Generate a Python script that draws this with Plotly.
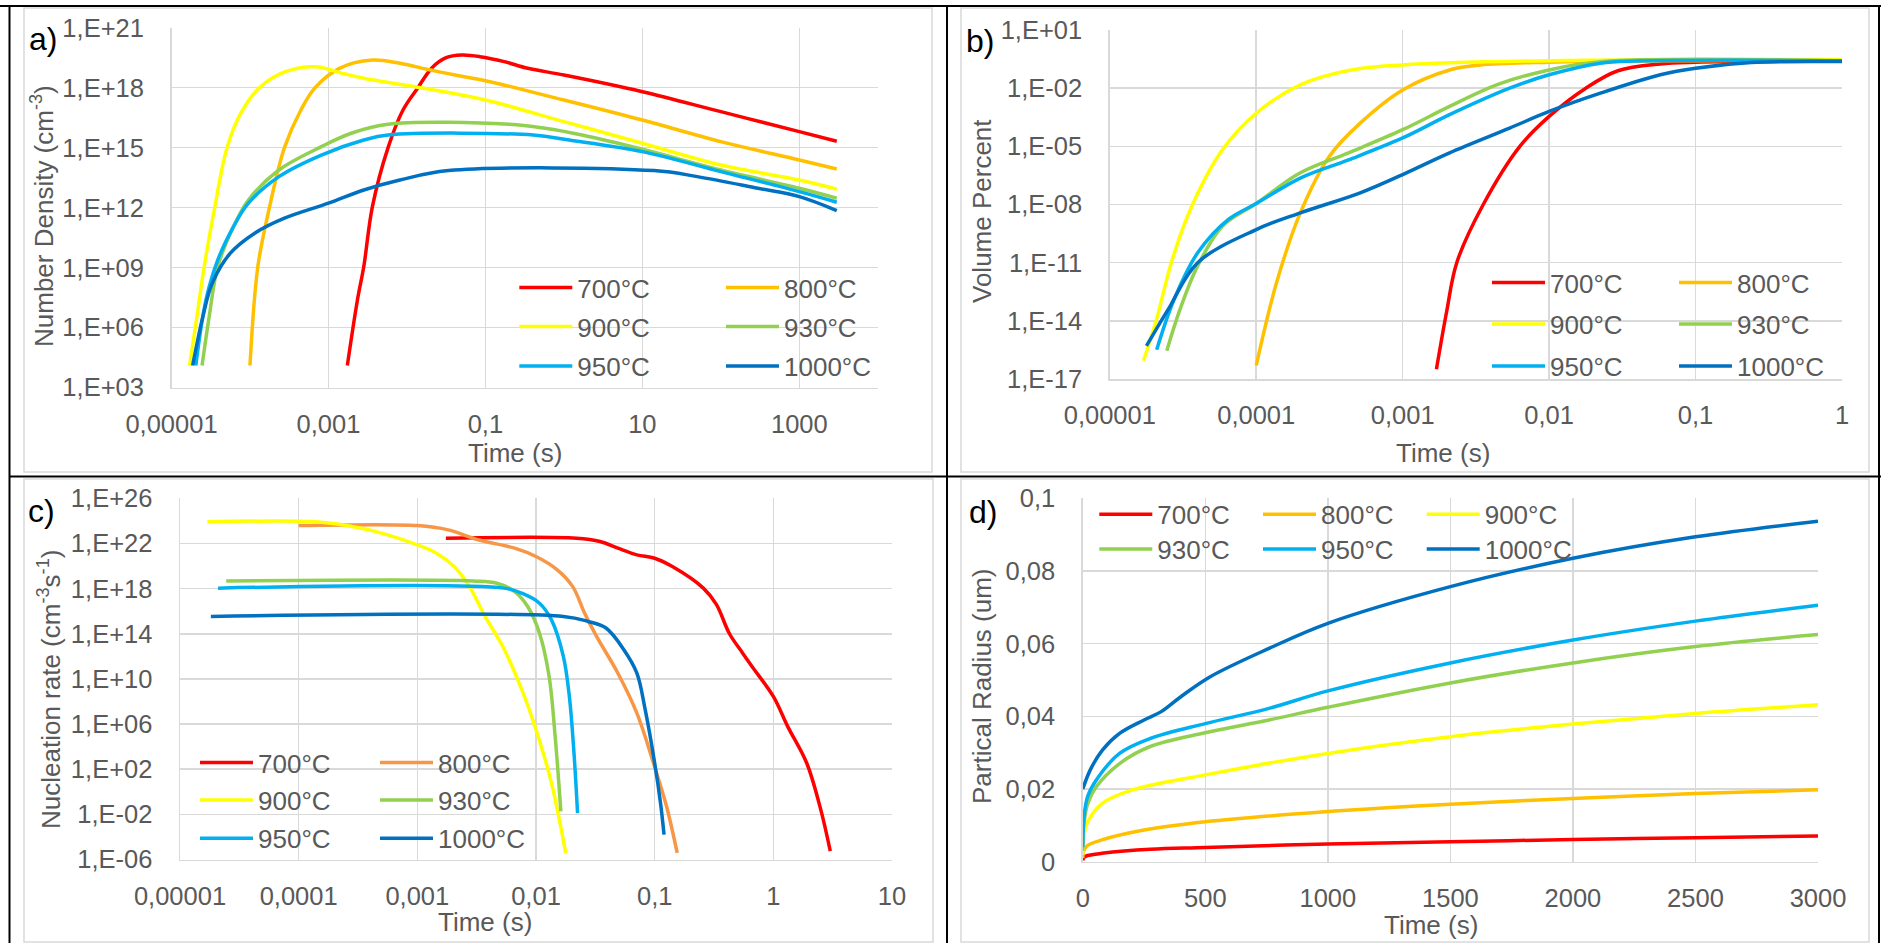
import plotly.graph_objects as go

W, H = 1881, 943
FONT = "Liberation Sans"
GREY = "#595959"
GRID = "#D9D9D9"

TEMPS = ["700°C", "800°C", "900°C", "930°C", "950°C", "1000°C"]
COLORS = ["#FF0000", "#FFC000", "#FFFF00", "#92D050", "#00B0F0", "#0070C0"]
COLORS_C = ["#FF0000", "#F79646", "#FFFF00", "#92D050", "#00B0F0", "#0070C0"]

# ---------------- a) Number density vs time ----------------
A_T_700 = [1.74e-3, 2.34e-3, 2.82e-3, 3.63e-3, 5.75e-3, 8.91e-3, 1.38e-2, 2.09e-2, 3.16e-2, 5.01e-2, 8.51e-2, 0.174, 0.347, 1, 10, 100, 1000, 3000]
A_N_700 = [1.26e4, 2.4e7, 1.12e9, 1.12e12, 1e15, 7.6e16, 1e18, 1e19, 3.16e19, 4.27e19, 3.55e19, 2e19, 9.3e18, 4.3e18, 6.3e17, 6.3e16, 6.3e15, 2.1e15]
A_T_800 = [1e-4, 1.26e-4, 1.78e-4, 2.75e-4, 4.47e-4, 6.76e-4, 1.38e-3, 3.63e-3, 8.13e-3, 2.0e-2, 4.79e-2, 0.1, 1, 10, 100, 1000, 3000]
A_N_800 = [1.26e4, 1.12e9, 1.12e12, 1e15, 7.9e16, 1e18, 9.3e18, 2.4e19, 1.66e19, 7.6e18, 3.8e18, 2.24e18, 2.4e17, 2.4e16, 2e15, 2.4e14, 8.5e13]
A_T_900 = [1.7e-5, 2.1e-5, 2.6e-5, 3.55e-5, 5.1e-5, 7.6e-5, 1.32e-4, 2.82e-4, 6.76e-4, 1.58e-3, 2.82e-3, 1.66e-2, 0.1, 1, 10, 100, 1000, 3000]
A_N_900 = [1.26e4, 3.2e6, 1e9, 1e12, 1e15, 5e16, 1e18, 6.3e18, 1.12e19, 5e18, 2.95e18, 9.3e17, 2.4e17, 2e16, 1.66e15, 1.35e14, 2.4e13, 8.3e12]
A_T_930 = [2.45e-5, 3.02e-5, 3.89e-5, 6.17e-5, 9.55e-5, 2.34e-4, 8.13e-4, 1.95e-3, 5.75e-3, 0.2, 0.575, 1.7, 10, 100, 1000, 3000]
A_N_930 = [1.26e4, 3.5e6, 1.12e9, 1.12e11, 2.4e12, 7.6e13, 1.12e15, 5.25e15, 1.48e16, 1.48e16, 9.3e15, 4.3e15, 8.3e14, 7.6e13, 9.3e12, 2.95e12]
A_T_950 = [2.04e-5, 2.75e-5, 3.89e-5, 6.17e-5, 9.55e-5, 2.34e-4, 8.13e-4, 2.82e-3, 5.75e-3, 0.407, 1.17, 10, 100, 1000, 3000]
A_N_950 = [1.26e4, 2.4e7, 2.4e9, 1.12e11, 1.66e12, 3.55e13, 4.27e14, 2.4e15, 4.27e15, 4.27e15, 2.4e15, 6.3e14, 6.3e13, 6.3e12, 1.86e12]
A_T_1000 = [1.86e-5, 2.51e-5, 3.31e-5, 5.62e-5, 1.15e-4, 2.75e-4, 1e-3, 2.82e-3, 8.13e-3, 3.39e-2, 14.1, 50.1, 295, 1000, 3000]
A_N_1000 = [1.26e4, 3.5e6, 1.66e8, 5.25e9, 5.25e10, 2.95e11, 1.66e12, 7.6e12, 2.4e13, 7.1e13, 7.1e13, 3.55e13, 9.3e12, 3.55e12, 7.1e11]

# ---------------- b) Volume percent vs time ----------------
B_T_700 = [1.7e-3, 2e-3, 2.34e-3, 3.55e-3, 6.31e-3, 1e-2, 1.78e-2, 2.95e-2, 5.75e-2, 0.1, 1]
B_V_700 = [3.2e-17, 3.2e-14, 1e-11, 1e-8, 1e-5, 3.5e-4, 1e-2, 7.9e-2, 0.178, 0.219, 0.263]
B_T_800 = [1e-4, 1.38e-4, 2e-4, 3.16e-4, 5.13e-4, 1e-3, 2.09e-3, 3.39e-3, 1e-2, 0.1, 1]
B_V_800 = [5e-17, 1e-12, 3.7e-9, 3.1e-6, 1.58e-4, 8.1e-3, 8.7e-2, 0.158, 0.219, 0.263, 0.282]
B_T_900 = [1.7e-5, 2.09e-5, 2.63e-5, 3.63e-5, 5.89e-5, 1e-4, 2e-4, 4.27e-4, 1e-3, 1e-2, 1]
B_V_900 = [8.7e-17, 1.26e-14, 1e-11, 8.1e-9, 6.8e-6, 5.1e-4, 1.48e-2, 8.1e-2, 0.158, 0.263, 0.302]
B_T_930 = [2.45e-5, 3.02e-5, 3.98e-5, 5.89e-5, 1e-4, 2e-4, 4.27e-4, 1e-3, 2.09e-3, 4.47e-3, 1e-2, 2.24e-2, 1]
B_V_930 = [2.9e-16, 4e-14, 6.8e-12, 7.8e-10, 1.12e-8, 4.3e-7, 4.6e-6, 7.2e-5, 1.15e-3, 1.58e-2, 8.7e-2, 0.234, 0.263]
B_T_950 = [2.09e-5, 2.75e-5, 3.98e-5, 6.46e-5, 1e-4, 2e-4, 4.27e-4, 1e-3, 2.09e-3, 5.37e-3, 1e-2, 2.24e-2, 3.98e-2, 1]
B_V_950 = [3.2e-16, 1.29e-13, 3.2e-11, 1.7e-9, 1.12e-8, 2.3e-7, 2e-6, 2.7e-5, 4.3e-4, 1e-2, 4.9e-2, 0.195, 0.251, 0.263]
B_T_1000 = [1.78e-5, 2.51e-5, 3.98e-5, 1e-4, 2e-4, 5.13e-4, 1e-3, 2.09e-3, 5.37e-3, 1e-2, 2.24e-2, 5.75e-2, 0.1, 0.24, 1]
B_V_1000 = [5.1e-16, 4e-14, 1e-11, 5.1e-10, 3.7e-9, 4e-8, 3.5e-7, 4.6e-6, 8.7e-5, 6.3e-4, 5.5e-3, 4.9e-2, 0.107, 0.209, 0.234]

# ---------------- c) Nucleation rate vs time ----------------
C_T_700 = [1.74e-3, 2.19e-2, 3.47e-2, 4.9e-2, 7.08e-2, 0.1, 0.141, 0.257, 0.331, 0.427, 0.55, 0.661, 1, 1.32, 1.91, 2.51, 3.02]
C_J_700 = [2.9e22, 2.9e22, 1.48e22, 3.8e21, 9.8e20, 4.9e20, 8.9e19, 1.1e18, 4e16, 1e14, 2e12, 1.26e11, 2.8e8, 6.2e5, 355, 2.6e-2, 5.4e-6]
C_T_800 = [1e-4, 1e-3, 1.82e-3, 3.31e-3, 6.61e-3, 1e-2, 1.51e-2, 2.04e-2, 2.57e-2, 3.24e-2, 4.9e-2, 7.08e-2, 0.1, 0.126, 0.155]
C_J_800 = [3.8e23, 3.8e23, 1.58e23, 2e22, 3.8e21, 6.9e20, 4.6e19, 1.5e18, 6.6e15, 5.8e13, 3.2e10, 9.3e6, 160, 5e-2, 3.8e-6]
C_T_900 = [1.7e-5, 1.38e-4, 2.19e-4, 4.47e-4, 1e-3, 1.45e-3, 2.04e-3, 2.75e-3, 3.72e-3, 5.25e-3, 7.59e-3, 1e-2, 1.35e-2, 1.78e-2]
C_J_900 = [8.5e23, 8.5e23, 5e23, 1.12e23, 7.4e21, 1.35e21, 8.9e19, 1.5e18, 3.4e15, 7.4e12, 1.1e9, 3.2e5, 6.0, 3.8e-6]
C_T_930 = [2.45e-5, 2.95e-3, 4.68e-3, 6.61e-3, 8.51e-3, 1.07e-2, 1.29e-2, 1.45e-2, 1.62e-2]
C_J_930 = [4.8e18, 4.8e18, 3e18, 5.5e17, 2.6e16, 1.12e14, 1.66e10, 8.1e4, 1.86e-2]
C_T_950 = [2.09e-5, 5.37e-3, 7.59e-3, 1.07e-2, 1.35e-2, 1.7e-2, 1.91e-2, 2.09e-2, 2.24e-2]
C_J_950 = [1.1e18, 1.1e18, 3.9e17, 5.1e16, 1.7e15, 9.8e11, 2.8e8, 2.7e3, 1.3e-2]
C_T_1000 = [1.82e-5, 1.7e-2, 2.75e-2, 3.89e-2, 5.5e-2, 7.08e-2, 8.32e-2, 0.1, 0.112, 0.12]
C_J_1000 = [3.4e15, 3.4e15, 1.23e15, 3.2e14, 3.8e12, 3.2e10, 1.86e7, 355, 0.102, 1.6e-4]

# ---------------- d) Particle radius vs time ----------------
D_T_700 = [0, 5, 20, 78, 275, 500, 1000, 1500, 2000, 2500, 3000]
D_R_700 = [0.0004, 0.0012, 0.0017, 0.0023, 0.0034, 0.0039, 0.0049, 0.0055, 0.0061, 0.0066, 0.0071]
D_T_800 = [0, 5, 20, 78, 250, 500, 1000, 1500, 2000, 2500, 3000]
D_R_800 = [0.001, 0.0032, 0.0045, 0.006, 0.0087, 0.011, 0.0138, 0.0158, 0.0174, 0.0188, 0.0198]
D_T_900 = [0, 5, 20, 78, 200, 500, 1000, 1500, 2000, 2500, 3000]
D_R_900 = [0.002, 0.0078, 0.011, 0.016, 0.0197, 0.0239, 0.0298, 0.0344, 0.0379, 0.0408, 0.0432]
D_T_930 = [0, 5, 20, 55, 150, 275, 500, 760, 1000, 1500, 2000, 2500, 3000]
D_R_930 = [0.003, 0.0106, 0.016, 0.0206, 0.027, 0.0317, 0.0355, 0.039, 0.0425, 0.0492, 0.0547, 0.0592, 0.0625]
D_T_950 = [0, 5, 20, 55, 150, 275, 500, 760, 1000, 1500, 2000, 2500, 3000]
D_R_950 = [0.004, 0.0124, 0.018, 0.0225, 0.0298, 0.0339, 0.038, 0.0422, 0.047, 0.0547, 0.061, 0.0662, 0.0706]
D_T_1000 = [0, 30, 80, 150, 250, 320, 400, 520, 760, 1000, 1500, 2000, 2500, 3000]
D_R_1000 = [0.020, 0.0252, 0.0307, 0.0353, 0.039, 0.0413, 0.0454, 0.0509, 0.0587, 0.0656, 0.0757, 0.0835, 0.0894, 0.0937]

# ---------------- tick labels ----------------
A_XTICKS = [1e-5, 1e-3, 1e-1, 10, 1000]
A_XTEXT = ["0,00001", "0,001", "0,1", "10", "1000"]
A_YTICKS = [1e3, 1e6, 1e9, 1e12, 1e15, 1e18, 1e21]
A_YTEXT = ["1,E+03", "1,E+06", "1,E+09", "1,E+12", "1,E+15", "1,E+18", "1,E+21"]
B_XTICKS = [1e-5, 1e-4, 1e-3, 1e-2, 1e-1, 1]
B_XTEXT = ["0,00001", "0,0001", "0,001", "0,01", "0,1", "1"]
B_YTICKS = [1e-17, 1e-14, 1e-11, 1e-8, 1e-5, 1e-2, 1e1]
B_YTEXT = ["1,E-17", "1,E-14", "1,E-11", "1,E-08", "1,E-05", "1,E-02", "1,E+01"]
C_XTICKS = [1e-5, 1e-4, 1e-3, 1e-2, 1e-1, 1, 10]
C_XTEXT = ["0,00001", "0,0001", "0,001", "0,01", "0,1", "1", "10"]
C_YTICKS = [1e-6, 1e-2, 1e2, 1e6, 1e10, 1e14, 1e18, 1e22, 1e26]
C_YTEXT = ["1,E-06", "1,E-02", "1,E+02", "1,E+06", "1,E+10", "1,E+14", "1,E+18", "1,E+22", "1,E+26"]
D_XTICKS = [0, 500, 1000, 1500, 2000, 2500, 3000]
D_XTEXT = ["0", "500", "1000", "1500", "2000", "2500", "3000"]
D_YTICKS = [0, 0.02, 0.04, 0.06, 0.08, 0.1]
D_YTEXT = ["0", "0,02", "0,04", "0,06", "0,08", "0,1"]


def px(x):
    return x / W


def py(y):
    return 1 - y / H


fig = go.Figure()

panels = [
    ("x", "y", [(A_T_700, A_N_700), (A_T_800, A_N_800), (A_T_900, A_N_900),
                (A_T_930, A_N_930), (A_T_950, A_N_950), (A_T_1000, A_N_1000)], COLORS, 2, 1),
    ("x2", "y2", [(B_T_700, B_V_700), (B_T_800, B_V_800), (B_T_900, B_V_900),
                  (B_T_930, B_V_930), (B_T_950, B_V_950), (B_T_1000, B_V_1000)], COLORS, 2, 4),
    ("x3", "y3", [(C_T_700, C_J_700), (C_T_800, C_J_800), (C_T_900, C_J_900),
                  (C_T_930, C_J_930), (C_T_950, C_J_950), (C_T_1000, C_J_1000)], COLORS_C, 2, 7),
    ("x4", "y4", [(D_T_700, D_R_700), (D_T_800, D_R_800), (D_T_900, D_R_900),
                  (D_T_930, D_R_930), (D_T_950, D_R_950), (D_T_1000, D_R_1000)], COLORS, 3, 10),
]

for xa, ya, series, cols, ncol, leg0 in panels:
    for i, ((tx, vy), name, col) in enumerate(zip(series, TEMPS, cols)):
        leg_n = leg0 + i // ncol
        leg = "legend" if leg_n == 1 else f"legend{leg_n}"
        fig.add_trace(go.Scatter(
            x=tx, y=vy, mode="lines", name=name, xaxis=xa, yaxis=ya,
            legend=leg, showlegend=True,
            line=dict(color=col, width=3.5, shape="spline", smoothing=1.0),
            hoverinfo="skip",
        ))

tickfont = dict(family=FONT, size=25.5, color=GREY)


def axis(domain, anchor, rng, vals, text, log=False, xdir=True):
    d = dict(domain=domain, anchor=anchor, range=rng, tickmode="array", tickvals=vals,
             ticktext=text, showgrid=True, gridcolor=GRID, gridwidth=1.5, zeroline=False,
             showline=True, linecolor=GRID, linewidth=1.5, ticks="", tickfont=tickfont,
             automargin=False, fixedrange=True, ticklabelstandoff=13 if xdir else 21)
    if log:
        d["type"] = "log"
    return d


fig.update_layout(
    width=W, height=H, margin=dict(l=0, r=0, t=0, b=0),
    paper_bgcolor="white", plot_bgcolor="white", showlegend=True,
    xaxis=axis([px(171.5), px(877.8)], "y", [-5, 4], A_XTICKS, A_XTEXT, True),
    yaxis=axis([py(387.5), py(27.7)], "x", [3, 21], A_YTICKS, A_YTEXT, True, False),
    xaxis2=axis([px(1109.8), px(1842)], "y2", [-5, 0], B_XTICKS, B_XTEXT, True),
    yaxis2=axis([py(379), py(30)], "x2", [-17, 1], B_YTICKS, B_YTEXT, True, False),
    xaxis3=axis([px(180), px(892)], "y3", [-5, 1], C_XTICKS, C_XTEXT, True),
    yaxis3=axis([py(859.5), py(498.3)], "x3", [-6, 26], C_YTICKS, C_YTEXT, True, False),
    xaxis4=axis([px(1082.8), px(1818)], "y4", [0, 3000], D_XTICKS, D_XTEXT),
    yaxis4=axis([py(861.7), py(498.3)], "x4", [0, 0.1], D_YTICKS, D_YTEXT, False, False),
)

# legends: one horizontal legend per legend row
ITEMW = 53
TEXTGAP = ITEMW + 10
legend_rows = {
    1: (519.3, 287.7, 206.7), 2: (519.3, 326.7, 206.7), 3: (519.3, 366.0, 206.7),
    4: (1492.0, 282.7, 187.0), 5: (1492.0, 324.0, 187.0), 6: (1492.0, 366.0, 187.0),
    7: (200.0, 762.7, 180.0), 8: (200.0, 800.0, 180.0), 9: (200.0, 838.3, 180.0),
    10: (1099.3, 514.3, 163.7), 11: (1099.3, 549.0, 163.7),
}
for n, (lx, ly, step) in legend_rows.items():
    key = "legend" if n == 1 else f"legend{n}"
    fig.update_layout(**{key: dict(
        orientation="h", x=px(lx - 5), xanchor="left", y=py(ly), yanchor="middle",
        bgcolor="rgba(0,0,0,0)", borderwidth=0, itemwidth=ITEMW,
        entrywidth=step - TEXTGAP - 5, entrywidthmode="pixels",
        font=dict(family=FONT, size=26, color=GREY), traceorder="normal",
        itemclick=False, itemdoubleclick=False,
    )})

annotations = []
title_font = dict(family=FONT, size=26, color=GREY)
for txt, x, y in [("Time (s)", 515, 453), ("Time (s)", 1443, 453),
                  ("Time (s)", 485, 921.7), ("Time (s)", 1431, 925)]:
    annotations.append(dict(text=txt, x=px(x), y=py(y), xref="paper", yref="paper",
                            xanchor="center", yanchor="middle", showarrow=False, font=title_font))
for txt, x, y in [("Number Density (cm<sup>-3</sup>)", 42, 216), ("Volume Percent", 982, 211),
                  ("Nucleation rate (cm<sup>-3</sup>s<sup>-1</sup>)", 49, 690),
                  ("Partical Radius (um)", 982, 686)]:
    annotations.append(dict(text=txt, x=px(x), y=py(y), xref="paper", yref="paper", textangle=-90,
                            xanchor="center", yanchor="middle", showarrow=False, font=title_font))
for txt, x, y in [("a)", 43, 39), ("b)", 980, 41), ("c)", 41, 511), ("d)", 983, 512)]:
    annotations.append(dict(text=txt, x=px(x), y=py(y), xref="paper", yref="paper",
                            xanchor="center", yanchor="middle", showarrow=False,
                            font=dict(family=FONT, size=32, color="black")))

shapes = []
# light chart-area frames
for x0, y0, x1, y1 in [(24, 8, 932, 472), (961, 8, 1869, 472), (24, 479, 933, 942), (961, 479, 1869, 942)]:
    shapes.append(dict(type="rect", xref="paper", yref="paper", x0=px(x0), x1=px(x1), y0=py(y0), y1=py(y1),
                       line=dict(color=GRID, width=1.5), fillcolor="rgba(0,0,0,0)", layer="below"))
# black table lines
for x0, y0, x1, y1 in [(9.5, 6, 9.5, 943), (0, 6, 1881, 6), (947, 6, 947, 943),
                       (9.5, 476.5, 1881, 476.5), (1879, 6, 1879, 943)]:
    shapes.append(dict(type="line", xref="paper", yref="paper", x0=px(x0), x1=px(x1), y0=py(y0), y1=py(y1),
                       line=dict(color="black", width=2)))

fig.update_layout(annotations=annotations, shapes=shapes)

fig.write_html("out.html", include_plotlyjs=True, full_html=True,
               config={"displayModeBar": False, "staticPlot": True},
               post_script="document.body.style.margin='0';document.body.style.overflow='hidden';")
